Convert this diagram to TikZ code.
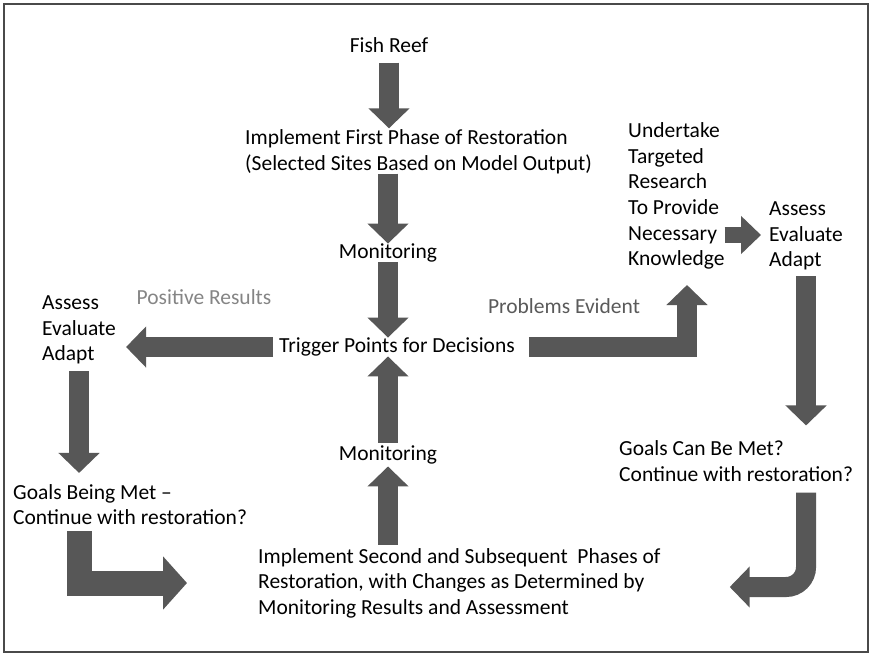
\documentclass[tikz,border=0pt]{standalone}
\usepackage{fontspec}
\setmainfont{Carlito}
\usetikzlibrary{arrows.meta}
\definecolor{arrowgray}{HTML}{575757}
\definecolor{framegray}{HTML}{4A4A4A}
\definecolor{posgray}{HTML}{858585}
\definecolor{probgray}{HTML}{5A5A5A}

\begin{document}
\begin{tikzpicture}[x=1pt, y=-1pt,
  lbl/.style={font=\fontsize{21.5}{25.6}\selectfont, inner sep=0pt, align=left},
  blk/.style={draw=arrowgray, line width=20pt, -{Triangle[length=20pt, width=40pt]}},
  blkbig/.style={draw=arrowgray, line width=25pt, -{Triangle[length=24pt, width=52pt]}},
  blksmall/.style={draw=arrowgray, line width=16pt, -{Triangle[length=20pt, width=37pt]}}]

% Background and frame
\useasboundingbox (0,0) rectangle (872,657);
\fill[white] (0,0) rectangle (872,657);
\draw[framegray, line width=1.3pt] (4,4) rectangle (868,652);

% Center column
\node[lbl] (fish) at (389,45) {Fish Reef};
\node[lbl, anchor=west] (impl1) at (245,151.5) {Implement First Phase of Restoration\\(Selected Sites Based on Model Output)};
\node[lbl] (mon1) at (388,253) {Monitoring};
\node[lbl] (trig) at (397,347) {Trigger Points for Decisions};
\node[lbl] (mon2) at (388,455) {Monitoring};
\node[lbl, anchor=west] (impl2) at (258,583) {Implement Second and Subsequent~ Phases of\\Restoration, with Changes as Determined by\\Monitoring Results and Assessment};

% Left branch
\node[lbl, text=posgray] (pos) at (204,297) {Positive Results};
\node[lbl, anchor=west] (assessL) at (42,330) {Assess\\Evaluate\\Adapt};
\node[lbl, anchor=west] (goalsA) at (13,504.5) {Goals Being Met –\\Continue with restoration?};

% Right branch
\node[lbl, text=probgray] (prob) at (564,306) {Problems Evident};
\node[lbl, anchor=west] (research) at (628,196) {Undertake\\Targeted\\Research\\To Provide\\Necessary\\Knowledge};
\node[lbl, anchor=west] (assessR) at (769,236) {Assess\\Evaluate\\Adapt};
\node[lbl, anchor=west] (goalsR) at (619,461) {Goals Can Be Met?\\Continue with restoration?};
\coordinate (probUp) at (687,285);

% Arrows down the center
\draw[blk, shorten <=10pt, shorten >=1pt] (fish.south) -- (fish |- impl1.north);
\draw[blk] (mon1 |- impl1.south) -- (mon1.north);
\draw[blk] (mon1.south) -- (mon1 |- trig.north);
\draw[blk, shorten <=3pt] (mon2.north) -- (mon2 |- trig.south);
\draw[blk, shorten <=3pt, shorten >=2pt] (mon2 |- impl2.north) -- (mon2.south);

% Left loop
\draw[blk, shorten <=6pt, shorten >=10pt] (trig.west) -- (assessL.east |- trig.west);
\draw[blk, shorten <=7pt, shorten >=11pt] (assessL.south) -- (assessL.south |- goalsA.north);
\draw[blkbig, shorten <=6pt, shorten >=71pt] (goalsA.south -| assessL.south) |- (impl2.west);

% Right loop
\draw[blk, shorten <=14pt] (trig.east) -| (probUp);
\draw[blksmall, shorten >=8pt] ([yshift=-39pt]research.east) -- ([yshift=-39pt]research.east -| assessR.west);
\draw[blk, shorten <=6pt, shorten >=15pt] (assessR.south) -- (assessR.south |- goalsR.north);
\draw[blk, rounded corners=20pt, shorten <=11pt, shorten >=69pt] (goalsR.south -| assessR.south) |- ([yshift=-4pt]impl2.east);

\end{tikzpicture}
\end{document}
